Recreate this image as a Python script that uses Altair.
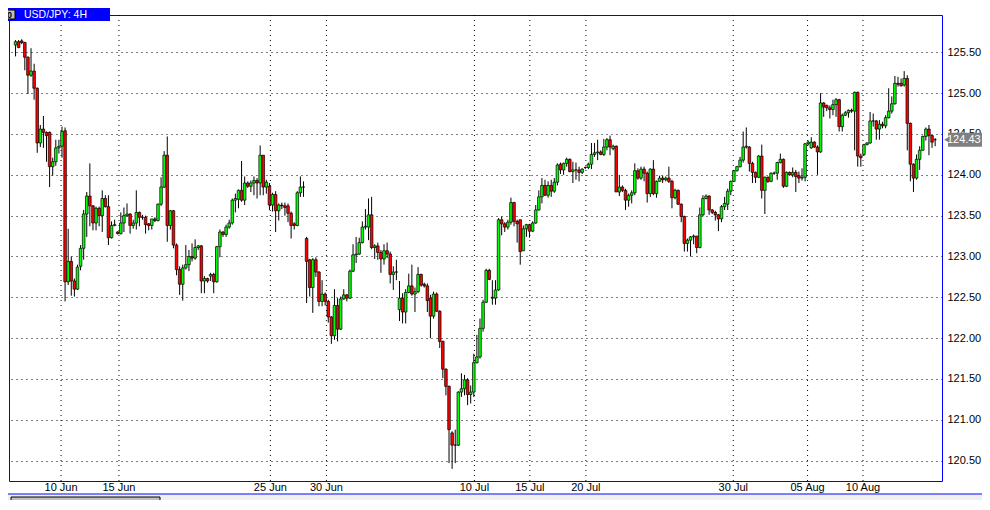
import altair as alt
import numpy as np
import pandas as pd

# ---- data (4H candles, USD/JPY) ----
OPEN = [
    125.59, 125.63, 125.64, 125.62, 125.44, 125.22, 125.27, 125.06, 124.39, 124.56,
    124.52, 124.52, 124.10, 124.16, 124.33, 124.35, 124.54, 122.69, 122.94, 122.70,
    122.60, 122.88, 123.10, 123.52, 123.74, 123.62, 123.41, 123.59, 123.50, 123.71,
    123.61, 123.23, 123.38, 123.30, 123.28, 123.41, 123.50, 123.52, 123.38, 123.41,
    123.54, 123.48, 123.48, 123.40, 123.38, 123.46, 123.44, 123.64, 123.85, 124.24,
    123.38, 123.56, 123.14, 122.84, 122.66, 122.86, 122.90, 123.00, 122.98, 123.11,
    123.13, 122.70, 122.73, 122.76, 122.78, 122.69, 123.12, 123.30, 123.27, 123.36,
    123.41, 123.69, 123.70, 123.81, 123.69, 123.90, 123.86, 123.90, 123.93, 123.90,
    124.24, 123.85, 123.86, 123.63, 123.76, 123.56, 123.63, 123.62, 123.62, 123.53,
    123.40, 123.38, 123.78, 123.85, 123.22, 122.96, 122.62, 122.96, 122.81, 122.45,
    122.54, 122.45, 122.26, 122.03, 122.40, 122.11, 122.48, 122.53, 122.49, 122.82,
    123.02, 123.03, 123.17, 123.36, 123.36, 123.51, 123.11, 123.13, 123.05, 122.97,
    123.07, 123.03, 122.78, 122.81, 122.35, 122.49, 122.32, 122.56, 122.64, 122.54,
    122.57, 122.78, 122.66, 122.64, 122.49, 122.27, 122.54, 122.33, 121.96, 121.62,
    121.41, 120.84, 120.69, 120.69, 121.34, 121.38, 121.49, 121.31, 121.34, 121.70,
    121.77, 122.12, 122.44, 122.83, 122.50, 122.49, 122.59, 123.45, 123.40, 123.36,
    123.42, 123.66, 123.43, 123.45, 123.07, 123.34, 123.39, 123.31, 123.41, 123.57,
    123.73, 123.87, 123.75, 123.87, 123.80, 123.91, 124.13, 124.06, 124.14, 124.19,
    124.04, 124.06, 124.06, 124.03, 124.09, 124.09, 124.13, 124.25, 124.27, 124.28,
    124.25, 124.34, 124.43, 124.32, 124.35, 123.79, 123.85, 123.81, 123.69, 123.75,
    123.78, 124.05, 123.96, 124.07, 124.02, 123.77, 124.07, 123.77, 123.92, 123.96,
    123.94, 123.96, 123.92, 123.72, 123.81, 123.64, 123.49, 123.16, 123.20, 123.24,
    123.25, 123.11, 123.51, 123.71, 123.74, 123.57, 123.54, 123.51, 123.46, 123.61,
    123.64, 123.80, 123.92, 124.05, 124.10, 124.18, 124.34, 124.34, 124.14, 124.03,
    123.97, 124.23, 123.81, 123.97, 123.92, 124.02, 124.02, 124.15, 124.19, 123.86,
    124.03, 124.00, 124.03, 123.99, 123.96, 123.97, 124.38, 124.33, 124.40, 124.34,
    124.28, 124.88, 124.85, 124.82, 124.80, 124.86, 124.92, 124.59, 124.73, 124.76,
    124.79, 124.78, 125.01, 124.23, 124.25, 124.37, 124.39, 124.66, 124.66, 124.56,
    124.62, 124.60, 124.70, 124.78, 124.87, 125.12, 125.12, 125.10, 125.18, 124.63,
    124.13, 123.96, 124.19, 124.30, 124.47, 124.56, 124.48, 124.43,
]
HIGH = [
    125.65, 125.65, 125.66, 125.63, 125.45, 125.55, 125.36, 125.07, 124.61, 124.72,
    124.53, 124.53, 124.21, 124.43, 124.43, 124.59, 124.58, 123.34, 123.00, 122.73,
    122.90, 123.14, 123.57, 123.79, 124.14, 123.63, 123.61, 123.61, 123.81, 123.75,
    123.75, 123.43, 123.45, 123.31, 123.54, 123.60, 123.65, 123.53, 123.45, 123.81,
    123.55, 123.51, 123.50, 123.41, 123.46, 123.48, 123.65, 123.97, 124.29, 124.47,
    123.57, 123.57, 123.16, 122.88, 122.90, 123.14, 123.08, 123.16, 123.21, 123.14,
    123.14, 122.76, 122.74, 122.80, 122.80, 123.13, 123.33, 123.31, 123.39, 123.45,
    123.71, 123.77, 123.82, 124.17, 123.98, 123.92, 123.93, 123.98, 123.96, 124.36,
    124.24, 123.94, 123.90, 123.78, 123.80, 123.65, 123.66, 123.66, 123.65, 123.55,
    123.42, 123.80, 123.98, 123.92, 123.24, 122.97, 122.98, 122.99, 122.82, 122.71,
    122.56, 122.47, 122.27, 122.60, 122.49, 122.51, 122.60, 122.54, 122.84, 123.15,
    123.24, 123.23, 123.43, 123.58, 123.71, 123.73, 123.15, 123.17, 123.08, 123.15,
    123.17, 123.06, 122.88, 122.96, 122.70, 122.55, 122.60, 122.79, 122.90, 122.62,
    122.87, 122.79, 122.68, 122.67, 122.53, 122.57, 122.56, 122.34, 121.97, 121.63,
    121.42, 120.86, 120.88, 121.35, 121.57, 121.55, 121.51, 121.42, 121.81, 122.04,
    122.24, 122.47, 122.85, 122.85, 122.71, 122.71, 123.47, 123.49, 123.42, 123.45,
    123.72, 123.67, 123.45, 123.45, 123.38, 123.40, 123.40, 123.43, 123.63, 123.81,
    123.96, 123.94, 123.92, 123.94, 123.96, 124.14, 124.15, 124.15, 124.21, 124.20,
    124.16, 124.15, 124.10, 124.08, 124.10, 124.15, 124.39, 124.39, 124.43, 124.30,
    124.44, 124.45, 124.48, 124.37, 124.36, 124.00, 123.87, 123.83, 123.77, 123.81,
    124.14, 124.08, 124.10, 124.10, 124.04, 124.08, 124.18, 123.93, 123.99, 123.99,
    123.98, 124.10, 123.94, 123.83, 123.82, 123.65, 123.50, 123.22, 123.25, 123.27,
    123.25, 123.60, 123.75, 123.76, 123.75, 123.58, 123.56, 123.52, 123.63, 123.73,
    123.83, 123.93, 124.06, 124.11, 124.22, 124.53, 124.58, 124.35, 124.16, 124.04,
    124.24, 124.37, 123.98, 123.98, 124.03, 124.04, 124.16, 124.26, 124.20, 124.04,
    124.04, 124.09, 124.06, 124.04, 124.08, 124.39, 124.42, 124.46, 124.41, 124.36,
    125.00, 124.89, 124.86, 124.85, 124.92, 124.94, 124.93, 124.75, 124.78, 124.80,
    124.81, 125.02, 125.02, 124.26, 124.38, 124.40, 124.77, 124.75, 124.67, 124.67,
    124.65, 124.73, 125.06, 124.96, 125.21, 125.20, 125.18, 125.27, 125.22, 124.64,
    124.14, 124.25, 124.35, 124.48, 124.58, 124.61, 124.49, 124.45,
]
LOW = [
    125.45, 125.55, 125.60, 125.28, 124.99, 125.20, 124.92, 124.27, 124.34, 124.33,
    124.16, 123.85, 123.99, 124.11, 124.26, 124.21, 122.45, 122.65, 122.52, 122.51,
    122.59, 122.83, 122.96, 123.24, 123.37, 123.32, 123.32, 123.37, 123.30, 123.60,
    123.14, 123.22, 123.37, 123.27, 123.27, 123.30, 123.49, 123.28, 123.34, 123.33,
    123.37, 123.45, 123.28, 123.32, 123.33, 123.42, 123.43, 123.62, 123.84, 123.18,
    123.33, 123.10, 122.77, 122.53, 122.46, 122.84, 122.82, 122.94, 122.96, 123.08,
    122.55, 122.55, 122.68, 122.70, 122.55, 122.68, 122.99, 123.24, 123.24, 123.34,
    123.39, 123.54, 123.59, 123.67, 123.63, 123.84, 123.79, 123.75, 123.71, 123.75,
    123.75, 123.77, 123.57, 123.55, 123.30, 123.44, 123.58, 123.50, 123.42, 123.22,
    123.33, 123.37, 123.73, 123.73, 122.43, 122.51, 122.31, 122.75, 122.39, 122.39,
    122.40, 122.19, 121.93, 121.98, 121.96, 122.10, 122.47, 122.45, 122.48, 122.81,
    122.92, 123.02, 123.16, 123.33, 123.20, 123.09, 122.97, 122.96, 122.80, 122.90,
    122.98, 122.67, 122.59, 122.71, 122.21, 122.18, 122.18, 122.55, 122.52, 122.32,
    122.55, 122.63, 122.62, 122.32, 122.00, 122.24, 122.32, 121.88, 121.51, 121.30,
    120.47, 120.40, 120.47, 120.68, 121.28, 121.30, 121.18, 121.20, 121.28, 121.69,
    121.75, 122.08, 122.43, 122.71, 122.41, 122.41, 122.58, 123.26, 123.30, 123.33,
    123.39, 123.37, 123.17, 122.90, 123.07, 123.24, 123.23, 123.30, 123.40, 123.56,
    123.65, 123.74, 123.72, 123.73, 123.78, 123.87, 124.01, 124.00, 124.10, 124.03,
    123.90, 123.94, 123.92, 124.01, 124.07, 124.07, 124.07, 124.22, 124.18, 124.24,
    124.23, 124.30, 124.24, 124.30, 123.79, 123.74, 123.79, 123.57, 123.61, 123.65,
    123.75, 123.94, 123.94, 123.92, 123.66, 123.73, 123.75, 123.72, 123.92, 123.90,
    123.92, 123.90, 123.59, 123.70, 123.63, 123.42, 123.06, 123.06, 123.00, 123.15,
    123.04, 123.10, 123.49, 123.70, 123.51, 123.52, 123.44, 123.31, 123.42, 123.57,
    123.57, 123.75, 123.91, 124.04, 124.09, 124.15, 124.32, 124.04, 123.90, 123.90,
    123.96, 123.71, 123.52, 123.90, 123.91, 124.00, 123.94, 124.14, 123.84, 123.85,
    123.99, 123.97, 123.79, 123.90, 123.93, 123.92, 124.36, 124.32, 124.33, 124.00,
    124.27, 124.71, 124.78, 124.69, 124.73, 124.71, 124.53, 124.53, 124.72, 124.70,
    124.76, 124.30, 124.10, 124.10, 124.23, 124.36, 124.38, 124.59, 124.43, 124.43,
    124.57, 124.57, 124.69, 124.75, 124.86, 125.08, 125.08, 125.08, 124.30, 123.92,
    123.79, 123.94, 124.06, 124.30, 124.42, 124.24, 124.33, 124.35,
]
CLOSE = [
    125.63, 125.56, 125.62, 125.44, 125.22, 125.27, 125.06, 124.39, 124.56, 124.52,
    124.48, 124.10, 124.16, 124.33, 124.35, 124.53, 122.69, 122.94, 122.70, 122.60,
    122.87, 123.10, 123.52, 123.74, 123.62, 123.41, 123.59, 123.50, 123.71, 123.61,
    123.23, 123.38, 123.39, 123.28, 123.41, 123.50, 123.52, 123.38, 123.41, 123.54,
    123.48, 123.48, 123.39, 123.38, 123.46, 123.44, 123.64, 123.85, 124.24, 123.38,
    123.56, 123.14, 122.84, 122.66, 122.86, 122.90, 123.00, 122.98, 123.11, 123.13,
    122.70, 122.73, 122.70, 122.78, 122.69, 123.12, 123.30, 123.27, 123.36, 123.41,
    123.69, 123.71, 123.81, 123.69, 123.90, 123.86, 123.90, 123.93, 123.90, 124.24,
    123.85, 123.91, 123.63, 123.76, 123.56, 123.63, 123.62, 123.60, 123.53, 123.38,
    123.38, 123.78, 123.85, 123.85, 122.94, 122.62, 122.96, 122.81, 122.45, 122.54,
    122.45, 122.26, 122.03, 122.40, 122.11, 122.48, 122.53, 122.49, 122.82, 123.02,
    123.03, 123.17, 123.36, 123.37, 123.51, 123.11, 123.13, 123.05, 122.97, 123.07,
    123.03, 122.78, 122.81, 122.81, 122.49, 122.32, 122.56, 122.64, 122.54, 122.57,
    122.78, 122.65, 122.64, 122.46, 122.27, 122.54, 122.33, 121.96, 121.62, 121.41,
    120.88, 120.69, 120.69, 121.34, 121.38, 121.49, 121.31, 121.34, 121.70, 121.77,
    122.12, 122.44, 122.83, 122.72, 122.49, 122.59, 123.45, 123.40, 123.36, 123.42,
    123.66, 123.43, 123.40, 123.06, 123.34, 123.39, 123.31, 123.41, 123.57, 123.73,
    123.87, 123.75, 123.87, 123.80, 123.91, 124.12, 124.06, 124.14, 124.19, 124.04,
    124.06, 124.06, 124.03, 124.07, 124.09, 124.13, 124.25, 124.27, 124.28, 124.25,
    124.34, 124.43, 124.34, 124.35, 123.79, 123.85, 123.81, 123.69, 123.75, 123.78,
    124.05, 123.96, 124.07, 124.02, 123.77, 124.07, 123.77, 123.92, 123.96, 123.94,
    123.96, 123.92, 123.72, 123.81, 123.64, 123.49, 123.16, 123.20, 123.24, 123.25,
    123.11, 123.51, 123.71, 123.74, 123.57, 123.54, 123.51, 123.46, 123.61, 123.65,
    123.80, 123.92, 124.05, 124.10, 124.18, 124.34, 124.35, 124.14, 124.03, 123.97,
    124.23, 123.81, 123.97, 123.92, 124.02, 124.02, 124.15, 124.19, 123.86, 124.03,
    124.00, 124.03, 123.98, 123.96, 123.97, 124.38, 124.40, 124.40, 124.34, 124.28,
    124.88, 124.83, 124.82, 124.80, 124.86, 124.92, 124.59, 124.73, 124.76, 124.79,
    124.78, 125.01, 124.23, 124.21, 124.37, 124.39, 124.66, 124.66, 124.56, 124.62,
    124.60, 124.70, 124.78, 124.87, 125.12, 125.11, 125.09, 125.18, 124.63, 124.13,
    123.96, 124.19, 124.30, 124.47, 124.56, 124.48, 124.40, 124.43,
]
DATE_POS = [15.7, 34.4, 83.3, 101.4, 149.2, 167.1, 185.2, 232.8, 256.8, 274.7]
DATE_LABELS = ["10 Jun", "15 Jun", "25 Jun", "30 Jun", "10 Jul",
               "15 Jul", "20 Jul", "30 Jul", "05 Aug", "10 Aug"]
PRICE_TICKS = [120.5, 121.0, 121.5, 122.0, 122.5, 123.0, 123.5, 124.0, 124.5, 125.0, 125.5]
TITLE = "USD/JPY: 4H"
ICON = "0"

# ---- layout ----
W, H = 933, 466
FONT = "Liberation Sans"
BLUE = "#0000ff"

n = len(CLOSE)
df = pd.DataFrame({"i": np.arange(1, n + 1), "o": OPEN, "h": HIGH, "l": LOW, "c": CLOSE})
df["top"] = np.maximum(df["o"], df["c"])
df["bot"] = np.minimum(df["o"], df["c"])
df["dir"] = np.where(df["c"] > df["o"], "up", np.where(df["c"] < df["o"], "down", "flat"))

xs = alt.Scale(domain=[0.5, n + 0.6], nice=False, zero=False)
ys = alt.Scale(domain=[120.251, 125.957], nice=False, zero=False)

yaxis = alt.Axis(orient="right", values=PRICE_TICKS, format=".2f", grid=True,
                 gridDash=[1, 4], gridColor="black", gridOpacity=1, gridWidth=1,
                 domain=False, ticks=False, labelPadding=5, labelFont=FONT,
                 labelFontSize=11, labelColor="black", title=None)

base = alt.Chart(df)
wicks = base.mark_rule(color="black", strokeWidth=1).encode(
    x=alt.X("i:Q", scale=xs, axis=None),
    y=alt.Y("l:Q", scale=ys, axis=yaxis),
    y2="h:Q",
)
bodies = base.mark_bar(size=2.6, stroke="black", strokeWidth=0.7).encode(
    x=alt.X("i:Q", scale=xs, axis=None),
    y=alt.Y("bot:Q", scale=ys),
    y2="top:Q",
    color=alt.Color("dir:N", scale=alt.Scale(domain=["up", "down", "flat"],
                                             range=["#00ff00", "#ff0000", "#000000"]),
                    legend=None),
)

dates = pd.DataFrame({"pos": DATE_POS, "label": DATE_LABELS})
vgrid = alt.Chart(dates).mark_rule(color="black", strokeDash=[1, 4], strokeWidth=1).encode(
    x=alt.X("pos:Q", scale=xs, axis=None), y=alt.value(0), y2=alt.value(H)
)
xlabels = alt.Chart(dates).mark_text(font=FONT, fontSize=11, color="black",
                                     baseline="middle", align="center").encode(
    x=alt.X("pos:Q", scale=xs, axis=None), y=alt.value(H + 7), text="label:N"
)

one = pd.DataFrame({"t": [TITLE], "icon": [ICON]})
tab = alt.Chart(one).mark_rect(color=BLUE).encode(
    x=alt.value(-1), x2=alt.value(101), y=alt.value(-7), y2=alt.value(6)
)
tab_icon = alt.Chart(one).mark_rect(fill="#c0c0c0", stroke="black", strokeWidth=1).encode(
    x=alt.value(-5), x2=alt.value(6), y=alt.value(-5), y2=alt.value(4)
)
tab_icon_txt = alt.Chart(one).mark_text(font=FONT, fontSize=9, fontWeight="bold",
                                        color="black", align="center", baseline="middle").encode(
    x=alt.value(0.5), y=alt.value(-0.5), text="icon:N"
)
tab_txt = alt.Chart(one).mark_text(font=FONT, fontSize=10.5, color="white",
                                   align="left", baseline="middle").encode(
    x=alt.value(15), y=alt.value(-0.5), text="t:N"
)

last = pd.DataFrame({"c": [CLOSE[-1]], "t": [f"{CLOSE[-1]:.2f}"]})
tag_rect = alt.Chart(last).mark_rect(color="#808080", yOffset=-7, y2Offset=7).encode(
    x=alt.value(W + 6), x2=alt.value(W + 45), y=alt.Y("c:Q", scale=ys), y2="c:Q"
)
tag_arrow = alt.Chart(last).mark_point(shape="triangle-left", filled=True, color="#808080",
                                       size=45, opacity=1).encode(
    x=alt.value(W + 5), y=alt.Y("c:Q", scale=ys)
)
tag_txt = alt.Chart(last).mark_text(font=FONT, fontSize=11, color="white",
                                    align="left", baseline="middle").encode(
    x=alt.value(W + 5), y=alt.Y("c:Q", scale=ys), text="t:N"
)

scroll_line = alt.Chart(one).mark_rule(color=BLUE, strokeWidth=1).encode(
    x=alt.value(-1), x2=alt.value(W + 41), y=alt.value(H + 13)
)
scroll_band = alt.Chart(one).mark_rect(color="#f0f0f0").encode(
    x=alt.value(-1), x2=alt.value(W + 41), y=alt.value(H + 13.5), y2=alt.value(H + 19)
)
thumb = alt.Chart(one).mark_rect(fill="#c0c0c0", stroke="black", strokeWidth=1).encode(
    x=alt.value(2), x2=alt.value(151), y=alt.value(H + 16), y2=alt.value(H + 24)
)

chart = alt.layer(
    vgrid, wicks, bodies, xlabels, tab, tab_icon, tab_icon_txt, tab_txt,
    tag_rect, tag_arrow, tag_txt, scroll_band, scroll_line, thumb,
).properties(
    width=W, height=H,
    padding={"left": 1, "top": 7, "right": 40, "bottom": 19},
    autosize=alt.AutoSizeParams(type="none"),
    background="white",
).configure_view(stroke=BLUE, strokeWidth=1)

chart.save("out.html", embed_options={"renderer": "svg", "actions": False})
